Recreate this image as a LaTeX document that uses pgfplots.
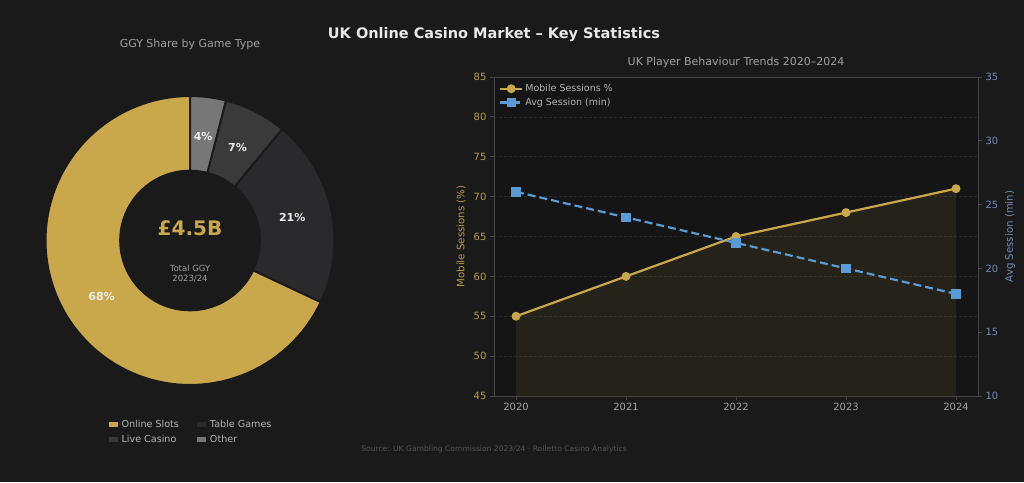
\documentclass[border=0pt]{standalone}
\usepackage{fontspec}
\setmainfont{DejaVu Sans}
\usepackage{pgfplots}
\pgfplotsset{compat=1.18}
\definecolor{bgc}{HTML}{1A1A1A}
\definecolor{axbg}{HTML}{151515}
\definecolor{gold}{HTML}{C9A84C}
\definecolor{blu}{HTML}{5B9BD5}
\definecolor{live}{HTML}{2A2A2D}
\definecolor{tablec}{HTML}{3A3A3A}
\definecolor{other}{HTML}{777777}
\definecolor{spine}{HTML}{444444}
\definecolor{gridc}{HTML}{2A2A2A}
\definecolor{ttl}{HTML}{E8E8E8}
\definecolor{sub}{HTML}{A0A0A0}
\definecolor{goldlab}{HTML}{B89A48}
\definecolor{blulab}{HTML}{6F8DB3}
\definecolor{src}{HTML}{555555}
% data (GGY share, %)
\def\vSlots{68}\def\vLive{21}\def\vTable{7}\def\vOther{4}
\pgfmathsetmacro\aA{90}
\pgfmathsetmacro\aB{\aA+3.6*\vSlots}
\pgfmathsetmacro\aC{\aB+3.6*\vLive}
\pgfmathsetmacro\aD{\aC+3.6*\vTable}
\pgfmathsetmacro\aE{\aD+3.6*\vOther}
% trend data: x = 0..4 stands for 2020..2024
\pgfplotstableread{
x mobile avg
0 55 26
1 60 24
2 65 22
3 68 20
4 71 18
}\trend
\begin{document}
\begin{tikzpicture}
\fill[bgc] (0pt,0pt) rectangle (1024pt,482pt);
\node[font=\bfseries\fontsize{14.5}{17}\selectfont, text=ttl] at (494pt,447pt) {UK Online Casino Market – Key Statistics};
\node[font=\fontsize{11}{13}\selectfont, text=sub] at (190pt,438pt) {GGY Share by Game Type};
\node[font=\fontsize{11}{13}\selectfont, text=sub] at (736pt,420pt) {UK Player Behaviour Trends 2020–2024};
\node[font=\fontsize{7.6}{9}\selectfont, text=src] at (494pt,33pt) {Source: UK Gambling Commission 2023/24 · Rolletto Casino Analytics};

% ---------- donut ----------
\begin{axis}[at={(190pt,241.5pt)}, anchor=center, scale only axis,
  width=289pt, height=289pt, xmin=-1, xmax=1, ymin=-1, ymax=1,
  hide axis, clip=false,
  legend columns=2,
  legend style={at={(0.5,-0.107)}, anchor=north, draw=none, fill=none,
    text=sub!80!white, font=\fontsize{9.6}{11}\selectfont,
    /tikz/every even column/.append style={column sep=14pt},
    row sep=2.5pt},
  legend cell align=left,
  legend image code/.code={\fill[#1] (-6pt,-3.5pt) rectangle (5pt,4pt);}]
\addplot[draw=bgc, line width=2pt, fill=gold, domain=\aA:\aB, samples=90, variable=\t] ({cos(t)},{sin(t)}) -- (axis cs:0,0) -- cycle;
\addplot[draw=bgc, line width=2pt, fill=live, domain=\aB:\aC, samples=40, variable=\t] ({cos(t)},{sin(t)}) -- (axis cs:0,0) -- cycle;
\addplot[draw=bgc, line width=2pt, fill=tablec, domain=\aC:\aD, samples=20, variable=\t] ({cos(t)},{sin(t)}) -- (axis cs:0,0) -- cycle;
\addplot[draw=bgc, line width=2pt, fill=other, domain=\aD:\aE, samples=20, variable=\t] ({cos(t)},{sin(t)}) -- (axis cs:0,0) -- cycle;
\fill[bgc] (axis cs:0,0) circle[radius=0.49];
\node[font=\bfseries\fontsize{11}{13}\selectfont, text=white!92!black] at (axis cs:-0.612,-0.388) {68\%};
\node[font=\bfseries\fontsize{11}{13}\selectfont, text=white!92!black] at (axis cs:0.7076,0.1582) {21\%};
\node[font=\bfseries\fontsize{11}{13}\selectfont, text=white!92!black] at (axis cs:0.329,0.646) {7\%};
\node[font=\bfseries\fontsize{11}{13}\selectfont, text=white!92!black] at (axis cs:0.0909,0.7193) {4\%};
\node[font=\bfseries\fontsize{20}{24}\selectfont, text=gold] at (axis cs:0,0.085) {£4.5B};
\node[font=\fontsize{8.5}{10.5}\selectfont, text=sub, align=center] at (axis cs:0,-0.23) {Total GGY\\[0pt]2023/24};
\addlegendimage{fill=gold}\addlegendentry{Online Slots}
\addlegendimage{fill=tablec}\addlegendentry{Table Games}
\addlegendimage{fill=live}\addlegendentry{Live Casino}
\addlegendimage{fill=other}\addlegendentry{Other}
\end{axis}

% ---------- line chart: left axis ----------
\begin{axis}[at={(494pt,86pt)}, anchor=south west, scale only axis,
  width=484pt, height=319pt,
  xmin=-0.2, xmax=4.2, ymin=45, ymax=85,
  xtick={0,1,2,3,4}, xticklabels={2020,2021,2022,2023,2024},
  ytick={45,50,...,85},
  xtick pos=bottom, ytick pos=left,
  tick align=outside, major tick length=4pt,
  tick style={spine, line width=0.8pt},
  axis line style={spine, line width=0.8pt},
  axis background/.style={fill=axbg},
  ymajorgrids, grid style={gridc, dash pattern=on 3pt off 2pt, line width=0.6pt},
  /pgf/number format/assume math mode=true,
  xticklabel style={font=\fontsize{10}{12}\selectfont, text=sub},
  yticklabel style={font=\fontsize{10}{12}\selectfont, text=goldlab},
  ylabel={Mobile Sessions (\%)},
  every axis y label/.style={at={(axis description cs:-0.068,0.5)}, rotate=90, anchor=center,
    font=\fontsize{10.2}{12}\selectfont, text=goldlab}]
\addplot[draw=none, fill=gold, fill opacity=0.09] table[x=x, y=mobile] {\trend} -- (axis cs:4,45) -- (axis cs:0,45) -- cycle;
\addplot[gold, line width=2.2pt, mark=*, mark size=3.3pt, mark options={fill=gold, draw=gold}] table[x=x, y=mobile] {\trend};
\end{axis}

% ---------- line chart: right axis ----------
\begin{axis}[at={(494pt,86pt)}, anchor=south west, scale only axis,
  width=484pt, height=319pt,
  xmin=-0.2, xmax=4.2, ymin=10, ymax=35,
  axis x line=none, axis y line*=right,
  ytick={10,15,...,35},
  tick align=outside, major tick length=4pt,
  tick style={spine, line width=0.8pt},
  axis line style={spine, line width=0.8pt},
  /pgf/number format/assume math mode=true,
  yticklabel style={font=\fontsize{10}{12}\selectfont, text=blulab},
  ylabel={Avg Session (min)},
  every axis y label/.style={at={(axis description cs:1.066,0.5)}, rotate=90, anchor=center,
    font=\fontsize{10.2}{12}\selectfont, text=blulab},
  legend style={at={(0.004,0.99)}, anchor=north west, draw=none, fill=none,
    text=sub!80!white, font=\fontsize{9.5}{11}\selectfont, row sep=1pt},
  legend cell align=left,
  legend image code/.code={\draw[mark repeat=2, mark phase=2, #1] plot coordinates {(0pt,0pt) (11pt,0pt) (22pt,0pt)};}]
\addlegendimage{gold, line width=2.2pt, mark=*, mark size=3.3pt, mark options={fill=gold, draw=gold}}
\addlegendentry{Mobile Sessions \%}
\addplot[blu, line width=2.2pt, dash pattern=on 8pt off 4pt, mark=square*, mark size=3.6pt, mark options={solid, fill=blu, draw=blu}] table[x=x, y=avg] {\trend};
\addlegendentry{Avg Session (min)}
\end{axis}
\end{tikzpicture}
\end{document}
